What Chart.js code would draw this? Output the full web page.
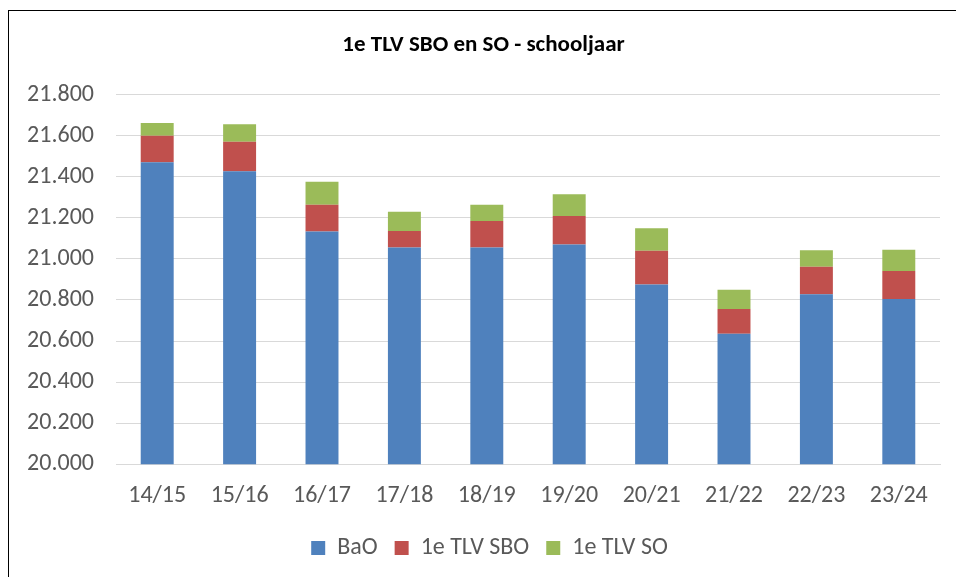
<!DOCTYPE html>
<html>
<head>
<meta charset="utf-8">
<script src="https://cdn.jsdelivr.net/npm/chart.js@4/dist/chart.umd.min.js"></script>
<style>
  html, body { margin: 0; padding: 0; background: #fff; overflow: hidden; }
  #frame {
    position: absolute; left: 8px; top: 10px; width: 960px; height: 580px;
    border-left: 1px solid #000; border-top: 1px solid #000; box-sizing: border-box; background: #fff;
  }
  #wrap { position: absolute; left: 0; top: 0; width: 948px; height: 566px; }
</style>
</head>
<body>
<div id="frame"><div id="wrap"><canvas id="chart"></canvas></div></div>
<script>
// schooljaren
const categories = ["14/15", "15/16", "16/17", "17/18", "18/19", "19/20", "20/21", "21/22", "22/23", "23/24"];
// aantallen per serie (gestapeld)
const baoValues = [21470, 21427, 21133, 21055, 21055, 21070, 20875, 20635, 20828, 20805];
const tlvSboValues = [129, 143, 130, 81, 130, 139, 164, 121, 133, 136];
const tlvSoValues = [63, 86, 112, 93, 78, 106, 110, 94, 81, 104];
const yTicks = [20000, 20200, 20400, 20600, 20800, 21000, 21200, 21400, 21600, 21800];

const textColor = "#595959";
const fontFamily = "Carlito, 'Liberation Sans', 'Noto Sans', sans-serif";

// 21800 -> "21.800"
function formatNl(v) {
    return String(Math.round(v)).replace(/\B(?=(\d{3})+(?!\d))/g, ".");
}

// titel en legenda staan in het origineel iets rechts van het midden
const boxShift = {
    id: "boxShift",
    afterLayout: function (chart) {
        chart.titleBlock.left += 9;
        chart.titleBlock.right += 9;
        chart.legend.left += 15;
        chart.legend.right += 15;
    }
};

const ctx = document.getElementById("chart");
new Chart(ctx, {
    type: "bar",
    data: {
        labels: categories,
        datasets: [
            { label: "BaO", data: baoValues, backgroundColor: "#4f81bd" },
            { label: "1e TLV SBO", data: tlvSboValues, backgroundColor: "#c0504d" },
            { label: "1e TLV SO", data: tlvSoValues, backgroundColor: "#9bbb59" }
        ]
    },
    plugins: [boxShift],
    options: {
        responsive: true,
        maintainAspectRatio: false,
        animation: false,
        datasets: {
            bar: { categoryPercentage: 1, barPercentage: 0.4, borderWidth: 0 }
        },
        layout: { padding: { left: 0, right: 17, top: 0, bottom: 7 } },
        plugins: {
            title: {
                display: true,
                text: "1e TLV SBO en SO - schooljaar",
                color: "#000",
                font: { family: fontFamily, size: 23, weight: "bold" },
                padding: { top: 20, bottom: 36 }
            },
            legend: {
                position: "bottom",
                labels: {
                    color: textColor,
                    font: { family: fontFamily, size: 24 },
                    boxWidth: 14,
                    boxHeight: 14,
                    padding: 17
                }
            },
            tooltip: { enabled: false }
        },
        scales: {
            x: {
                stacked: true,
                grid: { display: false },
                border: { display: true, color: "#d9d9d9", width: 1 },
                ticks: { color: textColor, font: { family: fontFamily, size: 24 }, padding: 9 }
            },
            y: {
                stacked: true,
                min: yTicks[0],
                max: yTicks[yTicks.length - 1],
                afterBuildTicks: function (scale) {
                    scale.ticks = yTicks.map(function (v) { return { value: v }; });
                },
                afterFit: function (scale) { scale.width = 107; },
                grid: { color: "#d9d9d9", lineWidth: 1, drawTicks: false },
                border: { display: false },
                ticks: {
                    color: textColor,
                    font: { family: fontFamily, size: 24 },
                    padding: 22,
                    callback: function (v) { return formatNl(v); }
                }
            }
        }
    }
});
</script>
</body>
</html>
